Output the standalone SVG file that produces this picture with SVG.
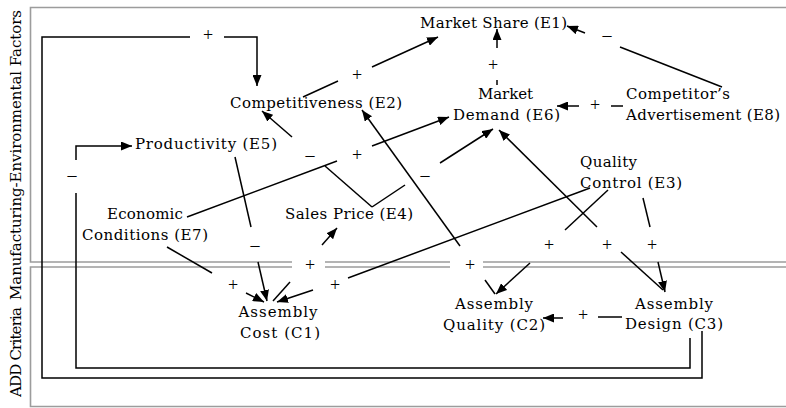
<svg xmlns="http://www.w3.org/2000/svg" width="786" height="408" viewBox="0 0 786 408">
<style>
.pn{stroke:#9c9c9c;stroke-width:1.6;fill:none}
.ln{stroke:#000;stroke-width:1.5;fill:none}
.ar{marker-end:url(#ah)}
.t{font-family:"DejaVu Serif","Liberation Serif",serif;font-size:15px;fill:#000}
.m{text-anchor:middle}
.sg{font-family:"Liberation Serif",serif;font-size:18px;fill:#000;text-anchor:middle}
.lb{font-family:"DejaVu Serif","Liberation Serif",serif;font-size:15px;fill:#000;text-anchor:middle}
</style>
<defs>
<marker id="ah" markerUnits="userSpaceOnUse" markerWidth="12" markerHeight="9" refX="11" refY="4.5" orient="auto"><path d="M0,0 L11,4.5 L0,9 z" fill="#000"/></marker>
</defs>
<rect width="786" height="408" fill="#fff"/>
<g id="panels">
<path class="pn" d="M786,7.5 H30.5 V262 H292 M325,262 H450 M483,262 H786"/>
<path class="pn" d="M786,406.5 H30.5 V267 H292 M325,267 H450 M483,267 H786"/>
<text class="lb" transform="translate(21,155) rotate(-90)" textLength="290" lengthAdjust="spacing">Manufacturing-Environmental Factors</text>
<text class="lb" transform="translate(21,352) rotate(-90)" textLength="90" lengthAdjust="spacing">ADD Criteria</text>
</g>
<g id="E1"><text class="t m" x="493.5" y="28" textLength="147" lengthAdjust="spacing">Market Share (E1)</text></g>
<g id="E2"><text class="t m" x="316" y="108" textLength="172" lengthAdjust="spacing">Competitiveness (E2)</text></g>
<g id="E6"><text class="t m" x="505.5" y="99" textLength="55" lengthAdjust="spacing">Market</text><text class="t m" x="506.5" y="120" textLength="107" lengthAdjust="spacing">Demand (E6)</text></g>
<g id="E8"><text class="t" x="626" y="99" textLength="104" lengthAdjust="spacing">Competitor’s</text><text class="t" x="626" y="120" textLength="154" lengthAdjust="spacing">Advertisement (E8)</text></g>
<g id="E5"><text class="t" x="135" y="149" textLength="142" lengthAdjust="spacing">Productivity (E5)</text></g>
<g id="E7"><text class="t m" x="145" y="219" textLength="76" lengthAdjust="spacing">Economic</text><text class="t m" x="145" y="240" textLength="126" lengthAdjust="spacing">Conditions (E7)</text></g>
<g id="E4"><text class="t m" x="349" y="219" textLength="128" lengthAdjust="spacing">Sales Price (E4)</text></g>
<g id="E3"><text class="t" x="580" y="167" textLength="57" lengthAdjust="spacing">Quality</text><text class="t" x="580" y="188" textLength="102" lengthAdjust="spacing">Control (E3)</text></g>
<g id="C1"><text class="t m" x="278" y="317" textLength="79" lengthAdjust="spacing">Assembly</text><text class="t m" x="280" y="338" textLength="80" lengthAdjust="spacing">Cost (C1)</text></g>
<g id="C2"><text class="t m" x="494" y="309" textLength="78" lengthAdjust="spacing">Assembly</text><text class="t m" x="494" y="330" textLength="102" lengthAdjust="spacing">Quality (C2)</text></g>
<g id="C3"><text class="t m" x="674" y="309" textLength="78" lengthAdjust="spacing">Assembly</text><text class="t m" x="674" y="329" textLength="98" lengthAdjust="spacing">Design (C3)</text></g>
<g id="connectors">
<path class="ln" d="M702,331 V378 H42 V37 H190"/><path class="ln ar" d="M224,37 H257 V86"/>
<path class="ln" d="M690,338 V368 H76 V193"/><path class="ln ar" d="M76,160 V146 H132"/>
<path class="ln" d="M303,97 L338,81"/><path class="ln ar" d="M372,67 L438,37"/>
<path class="ln" d="M497,85 V80"/><path class="ln ar" d="M497,48 V29"/>
<path class="ln" d="M722,87 L620,47"/><path class="ln ar" d="M585,33 L567,26"/>
<path class="ln" d="M623,106 H611"/><path class="ln ar" d="M579,106 H557"/>
<path class="ln" d="M372,207 L325,166"/><path class="ln ar" d="M292,137 L262,111"/>
<path class="ln" d="M187,217 L337,161"/><path class="ln ar" d="M372,146 L449,117"/>
<path class="ln" d="M372,207 L405,185"/><path class="ln ar" d="M440,163 L493,129"/>
<path class="ln" d="M235,157 L251,227"/><path class="ln ar" d="M258,262 L267,301"/>
<path class="ln" d="M167,247 L212,273"/><path class="ln ar" d="M246,293 L264,302"/>
<path class="ln" d="M273,301 L290,282"/><path class="ln ar" d="M322,245 L337,228"/>
<path class="ln" d="M590,188 L348,278"/><path class="ln ar" d="M313,290 L277,302"/>
<path class="ln" d="M495,294 L485,280"/><path class="ln ar" d="M460,246 L362,110"/>
<path class="ln" d="M608,190 L565,230"/><path class="ln ar" d="M530,263 L496,294"/>
<path class="ln" d="M663,290 L621,252"/><path class="ln ar" d="M597,227 L499,130"/>
<path class="ln" d="M643,198 L650,227"/><path class="ln ar" d="M658,262 L665,292"/>
<path class="ln" d="M622,317 H598"/><path class="ln ar" d="M563,318 H543"/>
<text class="sg" x="208" y="41">+</text>
<text class="sg" x="357" y="81">+</text>
<text class="sg" x="493" y="71">+</text>
<text class="sg" x="607" y="41">–</text>
<text class="sg" x="595" y="111">+</text>
<text class="sg" x="72" y="181">–</text>
<text class="sg" x="310" y="161">–</text>
<text class="sg" x="357" y="161">+</text>
<text class="sg" x="425" y="181">–</text>
<text class="sg" x="255" y="251">–</text>
<text class="sg" x="233" y="291">+</text>
<text class="sg" x="310" y="271">+</text>
<text class="sg" x="335" y="291">+</text>
<text class="sg" x="470" y="271">+</text>
<text class="sg" x="549" y="251">+</text>
<text class="sg" x="607" y="251">+</text>
<text class="sg" x="652" y="251">+</text>
<text class="sg" x="583" y="321">+</text>
</g>
</svg>
